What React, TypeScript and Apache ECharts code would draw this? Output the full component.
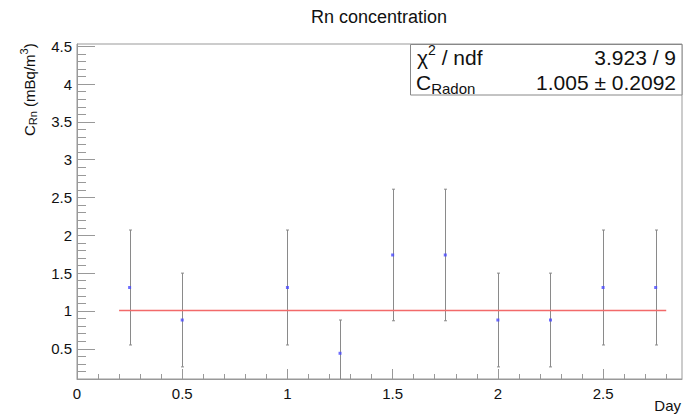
import React, { useEffect, useRef } from 'react';
import * as echarts from 'echarts';

// ---- data ----
const TITLE = 'Rn concentration';
const X_NAME = 'Day';
const DAYS = [0.25, 0.5, 1.0, 1.25, 1.5, 1.75, 2.0, 2.25, 2.5, 2.75];
const CONC = [1.31, 0.88, 1.31, 0.44, 1.74, 1.74, 0.88, 0.88, 1.31, 1.31];
const CONC_ERR = [0.76, 0.62, 0.76, 0.44, 0.87, 0.87, 0.62, 0.62, 0.76, 0.76];
const FIT_C = 1.005;
const FIT_C_ERR = 0.2092;
const FIT_RANGE = [0.2, 2.8];
const CHI2 = 3.923;
const NDF = 9;
const X_TICKS = [0, 0.5, 1, 1.5, 2, 2.5];
const Y_TICKS = [0.5, 1, 1.5, 2, 2.5, 3, 3.5, 4, 4.5];
const X_MIN = 0;
const X_MAX = 2.875;
const Y_MIN = 0.1;
const Y_MAX = 4.53;
const MINOR_STEP = 0.1;

const FONT = '"Liberation Sans", Arial, Helvetica, sans-serif';
const GRAY = '#999999';
const TEXT = '#111111';

function minorValues(min: number, max: number, majors: number[]) {
  const out: number[] = [];
  for (let i = Math.ceil(min / MINOR_STEP - 1e-9); i * MINOR_STEP <= max + 1e-9; i++) {
    const v = +(i * MINOR_STEP).toFixed(4);
    if (!majors.some((m) => Math.abs(m - v) < 1e-6)) out.push(v);
  }
  return out;
}

function measure(t: string, size: number) {
  const c = document.createElement('canvas').getContext('2d')!;
  c.font = `${size}px ${FONT}`;
  return c.measureText(t).width;
}

function txt(x: number, y: number, text: string, size: number, align = 'left', extra: any = {}) {
  return {
    type: 'text',
    x,
    y,
    style: { text, fontSize: size, fontFamily: FONT, fill: TEXT, align, verticalAlign: 'middle', ...extra },
  };
}

export default function App() {
  const ref = useRef<HTMLDivElement>(null);

  useEffect(() => {
    if (!ref.current) return;
    const chart = echarts.init(ref.current, undefined, { renderer: 'svg' });

    const errData = DAYS.map((d, i) => [d, CONC[i] - CONC_ERR[i], CONC[i] + CONC_ERR[i]]);
    const ptData = DAYS.map((d, i) => [d, CONC[i]]);
    const fitData = FIT_RANGE.map((x) => [x, FIT_C]);

    // y title (rotated) pieces
    const F = 15, FS = 11;
    const wC = measure('C', F);
    const wRn = measure('Rn', FS);
    const wMid = measure(' (mBq/m', F);
    const w3 = measure('3', FS);
    const yTitle = {
      type: 'group',
      x: 29,
      y: 136,
      rotation: Math.PI / 2,
      children: [
        txt(0, 0, 'C', F),
        txt(wC, 4, 'Rn', FS),
        txt(wC + wRn, 0, ' (mBq/m', F),
        txt(wC + wRn + wMid, -5, '3', FS),
        txt(wC + wRn + wMid + w3, 0, ')', F),
      ],
    };

    // stats box
    const SF = 21, SS = 14;
    const wChi = measure('χ', SF);
    const wTwo = measure('2', SS);
    const wCbig = measure('C', SF);
    const statBox = {
      type: 'group',
      children: [
        {
          type: 'rect',
          shape: { x: 410.5, y: 44.5, width: 271.5, height: 50.5 },
          style: { fill: '#ffffff', stroke: '#888888', lineWidth: 1 },
          z: 100,
        },
        { ...txt(417, 57, 'χ', SF), z: 101 },
        { ...txt(417 + wChi, 50, '2', SS), z: 101 },
        { ...txt(417 + wChi + wTwo, 57, ' / ndf', SF), z: 101 },
        { ...txt(676, 57, `${CHI2.toFixed(3)} / ${NDF}`, SF, 'right'), z: 101 },
        { ...txt(416, 82, 'C', SF), z: 101 },
        { ...txt(416 + wCbig, 88, 'Radon', 15), z: 101 },
        { ...txt(676, 82, `${FIT_C.toFixed(3)} ± ${FIT_C_ERR}`, SF, 'right'), z: 101 },
      ],
    };

    const xMinor = minorValues(X_MIN, X_MAX, X_TICKS);
    const yMinor = minorValues(Y_MIN + MINOR_STEP, Y_MAX, Y_TICKS);

    const axisCommon = {
      type: 'value',
      splitLine: { show: false },
      axisPointer: { show: false },
    };

    chart.setOption({
      animation: false,
      grid: {
        left: 77,
        right: 5,
        top: 44,
        bottom: 35,
        show: true,
        borderColor: GRAY,
        borderWidth: 1,
        backgroundColor: 'transparent',
      },
      xAxis: [
        {
          ...axisCommon,
          min: X_MIN,
          max: X_MAX,
          position: 'bottom',
          axisLine: { show: true, lineStyle: { color: GRAY, width: 1 } },
          axisTick: { show: true, inside: true, length: 10, customValues: X_TICKS, lineStyle: { color: GRAY } },
          axisLabel: {
            show: true,
            customValues: X_TICKS,
            margin: 7,
            fontSize: 15,
            fontFamily: FONT,
            color: TEXT,
            formatter: (v: number) => String(v),
          },
        },
        {
          ...axisCommon,
          min: X_MIN,
          max: X_MAX,
          position: 'bottom',
          offset: 0,
          axisLine: { show: false },
          axisTick: { show: true, inside: true, length: 5, customValues: xMinor, lineStyle: { color: GRAY } },
          axisLabel: { show: false },
        },
      ],
      yAxis: [
        {
          ...axisCommon,
          min: Y_MIN,
          max: Y_MAX,
          position: 'left',
          axisLine: { show: true, lineStyle: { color: GRAY, width: 1 } },
          axisTick: { show: true, inside: true, length: 18, customValues: Y_TICKS, lineStyle: { color: GRAY } },
          axisLabel: {
            show: true,
            customValues: Y_TICKS,
            margin: 5,
            fontSize: 15,
            fontFamily: FONT,
            color: TEXT,
            formatter: (v: number) => String(v),
          },
        },
        {
          ...axisCommon,
          min: Y_MIN,
          max: Y_MAX,
          position: 'left',
          offset: 0,
          axisLine: { show: false },
          axisTick: { show: true, inside: true, length: 9, customValues: yMinor, lineStyle: { color: GRAY } },
          axisLabel: { show: false },
        },
      ],
      series: [
        {
          type: 'custom',
          xAxisIndex: 0,
          yAxisIndex: 0,
          data: errData,
          z: 3,
          renderItem: (params: any, api: any) => {
            const x = api.value(0);
            const lo = api.value(1);
            const hi = api.value(2);
            const clipped = lo < Y_MIN;
            const pLo = api.coord([x, clipped ? Y_MIN : lo]);
            const pHi = api.coord([x, Math.min(hi, Y_MAX)]);
            const px = Math.round(pLo[0]) + 0.5;
            const st = { stroke: '#8a8a8a', lineWidth: 1 };
            const children: any[] = [
              { type: 'line', shape: { x1: px, y1: pLo[1], x2: px, y2: pHi[1] }, style: st },
              { type: 'line', shape: { x1: px - 1.5, y1: pHi[1], x2: px + 1.5, y2: pHi[1] }, style: st },
            ];
            if (!clipped) {
              children.push({ type: 'line', shape: { x1: px - 1.5, y1: pLo[1], x2: px + 1.5, y2: pLo[1] }, style: st });
            }
            return { type: 'group', children };
          },
        },
        {
          type: 'line',
          xAxisIndex: 0,
          yAxisIndex: 0,
          data: fitData,
          symbol: 'none',
          z: 4,
          lineStyle: { color: '#f26a6a', width: 1.5 },
        },
        {
          type: 'scatter',
          xAxisIndex: 0,
          yAxisIndex: 0,
          data: ptData,
          symbol: 'rect',
          symbolSize: 3,
          z: 5,
          itemStyle: { color: '#4a4aff' },
        },
      ],
      graphic: [
        txt(379, 17, TITLE, 18, 'center'),
        txt(681, 405, X_NAME, 15, 'right'),
        yTitle,
        statBox,
      ],
    });

    return () => chart.dispose();
  }, []);

  return (
    <div
      ref={ref}
      style={{ position: 'fixed', left: 0, top: 0, width: 687, height: 414, background: '#fff' }}
    />
  );
}
